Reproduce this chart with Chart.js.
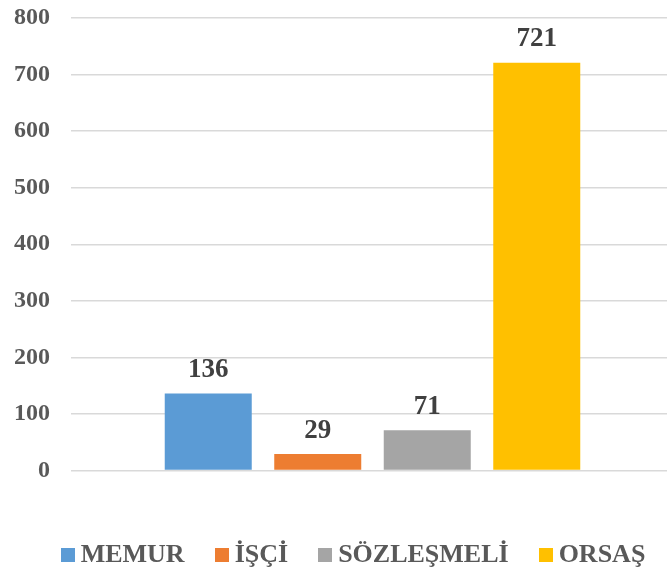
<!DOCTYPE html>
<html>
<head>
<meta charset="utf-8">
<script src="https://cdn.jsdelivr.net/npm/chart.js@4.4.1/dist/chart.umd.min.js"></script>
<style>
  html, body { margin: 0; padding: 0; background: #fff; overflow: hidden; }
  #wrap { position: relative; width: 674px; height: 572px; }
  #legend {
    position: absolute; left: 0; top: 541px; width: 706px;
    text-align: center; white-space: nowrap;
    font: bold 26px "Liberation Serif", "Times New Roman", serif;
    line-height: 26px; color: #595959;
  }
  #legend .item { display: inline-block; margin: 0 15px; }
  #legend .box { display: inline-block; width: 14px; height: 14px; margin-right: 6px; }
</style>
</head>
<body>
<div id="wrap">
  <canvas id="c"></canvas>
  <div id="legend"></div>
</div>
<script>
// one category group, four series
const categories = [""];
const seriesNames = ["MEMUR", "İŞÇİ", "SÖZLEŞMELİ", "ORSAŞ"];
const seriesValues = [136, 29, 71, 721];
const seriesColors = ["#5B9BD5", "#ED7D31", "#A5A5A5", "#FFC000"];
const yTicks = [0, 100, 200, 300, 400, 500, 600, 700, 800];

const FONT = '"Liberation Serif", "Times New Roman", serif';

// value labels above each bar
const valueLabels = {
  id: "valueLabels",
  afterDatasetsDraw(chart) {
    const ctx = chart.ctx;
    ctx.save();
    ctx.font = "bold 27px " + FONT;
    ctx.fillStyle = "#404040";
    ctx.textAlign = "center";
    ctx.textBaseline = "alphabetic";
    chart.data.datasets.forEach((ds, i) => {
      const meta = chart.getDatasetMeta(i);
      meta.data.forEach((bar, j) => {
        ctx.fillText(String(ds.data[j]), bar.x, bar.y - 16.5);
      });
    });
    ctx.restore();
  }
};

const datasets = seriesNames.map((name, i) => ({
  label: name,
  data: [seriesValues[i]],
  backgroundColor: seriesColors[i],
  borderWidth: 0,
  categoryPercentage: 0.7264,
  barPercentage: 0.7945
}));

new Chart(document.getElementById("c"), {
  type: "bar",
  data: { labels: categories, datasets: datasets },
  options: {
    responsive: true,
    maintainAspectRatio: false,
    animation: false,
    layout: { padding: { left: 14, top: 18, right: 0, bottom: 101.5 } },
    plugins: { legend: { display: false }, tooltip: { enabled: false } },
    scales: {
      x: { display: false },
      y: {
        min: yTicks[0],
        max: yTicks[yTicks.length - 1],
        afterFit(scale) {
          scale.width = 57;
          scale.paddingTop = 0;
          scale.paddingBottom = 0;
        },
        ticks: {
          stepSize: yTicks[1] - yTicks[0],
          padding: 21,
          color: "#595959",
          font: { family: FONT, size: 24, weight: "bold" }
        },
        grid: { color: "#D9D9D9", lineWidth: 1.5, drawTicks: false },
        border: { display: false }
      }
    }
  },
  plugins: [valueLabels]
});

// legend as html under the chart
const legend = document.getElementById("legend");
seriesNames.forEach((name, i) => {
  const item = document.createElement("span");
  item.className = "item";
  const box = document.createElement("span");
  box.className = "box";
  box.style.background = seriesColors[i];
  item.appendChild(box);
  item.appendChild(document.createTextNode(name));
  legend.appendChild(item);
});
</script>
</body>
</html>
